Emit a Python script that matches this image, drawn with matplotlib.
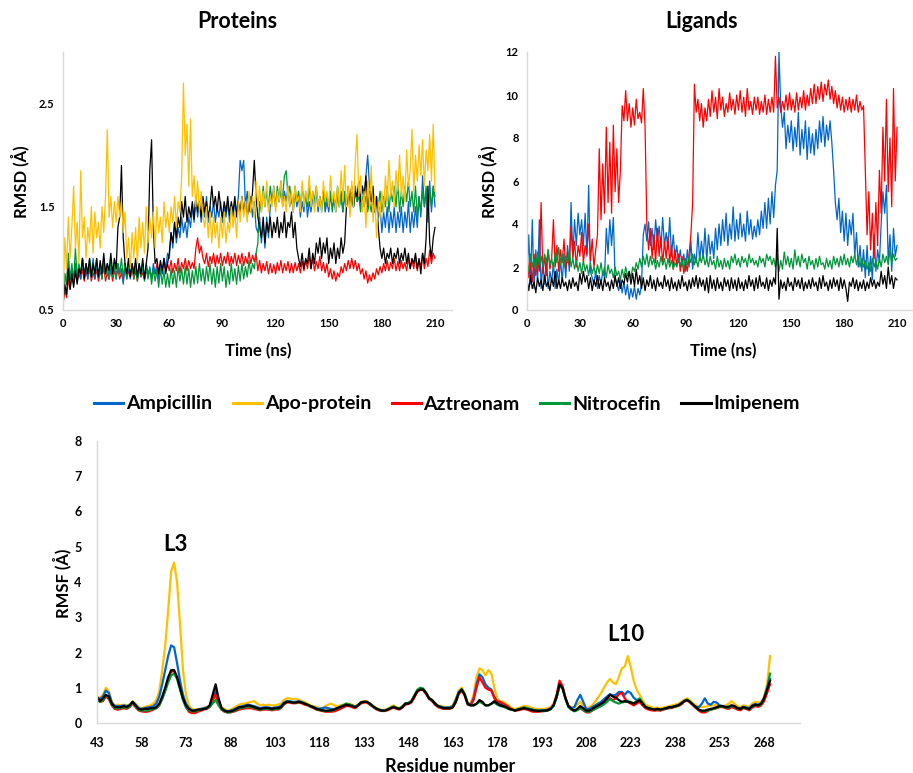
import numpy as np
import matplotlib
matplotlib.use("Agg")
import matplotlib.pyplot as plt

plt.rcParams['font.family'] = ['Lato', 'DejaVu Sans']
plt.rcParams['font.weight'] = 'bold'

# ---------------- data ----------------
series_names = ["Ampicillin", "Apo-protein", "Aztreonam", "Nitrocefin", "Imipenem"]
colors = {"Ampicillin": "#0066cc", "Apo-protein": "#ffc000", "Aztreonam": "#ff0000",
          "Nitrocefin": "#00973a", "Imipenem": "#000000"}

time_start, time_step = 0, 1   # ns
time_ticks = [0, 30, 60, 90, 120, 150, 180, 210]

# Protein RMSD (Å), one value per ns
prot_apo = [0.55, 1.2, 0.9, 1.4, 1.0, 1.3, 1.7, 1.1, 1.35, 0.95,
            1.85, 1.2, 1.4, 1.0, 1.3, 1.15, 1.5, 1.05, 1.45, 1.2,
            1.35, 1.1, 1.5, 1.25, 1.6, 2.25, 1.4, 1.6, 1.3, 1.55,
            1.35, 1.6, 1.4, 1.55, 1.25, 1.45, 1.0, 1.2, 0.9, 1.25,
            1.0, 1.3, 0.95, 1.4, 1.1, 1.35, 1.05, 1.5, 1.15, 1.4,
            1.2, 1.45, 1.1, 1.5, 1.25, 1.4, 1.15, 1.55, 1.3, 1.45,
            1.25, 1.5, 1.35, 1.6, 1.3, 1.55, 1.45, 1.8, 2.7, 2.0,
            2.3, 1.7, 2.35, 1.6, 1.8, 1.5, 1.75, 1.45, 1.65, 1.4,
            1.3, 1.5, 1.2, 1.45, 1.15, 1.4, 1.2, 1.35, 1.1, 1.4,
            1.2, 1.45, 1.15, 1.35, 1.25, 1.5, 1.3, 1.45, 1.2, 1.55,
            1.35, 1.6, 1.4, 1.55, 1.35, 1.65, 1.45, 1.6, 1.4, 1.75,
            1.5, 1.7, 1.45, 1.65, 1.5, 1.75, 1.45, 1.6, 1.5, 1.7,
            1.45, 1.65, 1.55, 1.75, 1.5, 1.6, 1.45, 1.7, 1.5, 1.65,
            1.45, 1.7, 1.55, 1.6, 1.45, 1.75, 1.5, 1.65, 1.55, 1.8,
            1.5, 1.65, 1.45, 1.7, 1.5, 1.6, 1.45, 1.75, 1.55, 1.65,
            1.5, 1.8, 1.55, 1.65, 1.45, 1.7, 1.5, 1.85, 1.55, 1.9,
            1.5, 1.7, 1.4, 1.75, 1.5, 1.95, 2.2, 1.6, 1.8, 1.45,
            1.65, 1.3, 1.75, 1.5, 1.9, 1.35, 1.6, 1.2, 1.55, 1.4,
            1.65, 1.45, 1.8, 1.55, 1.95, 1.6, 1.75, 1.5, 1.85, 1.65,
            2.0, 1.6, 1.8, 1.55, 2.05, 1.7, 1.85, 2.25, 1.65, 2.0,
            1.75, 2.1, 1.8, 2.15, 1.7, 2.05, 1.85, 2.2, 1.75, 2.3,
            1.65]
prot_amp = [0.6, 0.85, 0.75, 0.95, 0.8, 0.9, 0.75, 0.95, 0.85, 0.9,
            0.8, 1.0, 0.85, 0.95, 0.8, 0.9, 0.85, 1.0, 0.8, 0.95,
            0.85, 0.9, 0.8, 1.0, 0.85, 0.95, 0.8, 0.9, 0.85, 0.95,
            0.8, 0.95, 0.85, 0.9, 0.75, 0.95, 0.85, 0.9, 0.8, 0.95,
            0.85, 0.9, 0.8, 0.95, 0.85, 0.9, 0.8, 0.95, 0.85, 0.9,
            0.8, 0.95, 0.85, 0.9, 0.8, 0.95, 0.85, 1.0, 0.9, 1.05,
            1.0, 1.25, 1.1, 1.35, 1.15, 1.3, 1.2, 1.4, 1.25, 1.35,
            1.2, 1.4, 1.3, 1.5, 1.35, 1.6, 1.4, 1.55, 1.35, 1.5,
            1.4, 1.6, 1.35, 1.5, 1.4, 1.55, 1.35, 1.5, 1.4, 1.55,
            1.35, 1.5, 1.4, 1.55, 1.35, 1.5, 1.4, 1.55, 1.45, 1.6,
            1.95, 1.85, 1.95, 1.5, 1.65, 1.45, 1.6, 1.4, 1.55, 1.3,
            1.25, 1.4, 1.15, 1.35, 1.1, 1.4, 1.2, 1.5, 1.55, 1.7,
            1.5, 1.65, 1.55, 1.75, 1.5, 1.65, 1.55, 1.7, 1.5, 1.6,
            1.45, 1.65, 1.5, 1.6, 1.4, 1.55, 1.45, 1.65, 1.4, 1.55,
            1.45, 1.6, 1.5, 1.65, 1.45, 1.6, 1.5, 1.65, 1.45, 1.55,
            1.45, 1.6, 1.5, 1.55, 1.45, 1.6, 1.5, 1.65, 1.45, 1.6,
            1.5, 1.65, 1.45, 1.6, 1.5, 1.7, 1.55, 1.65, 1.5, 1.7,
            1.55, 1.8, 2.0, 1.7, 1.6, 1.5, 1.45, 1.6, 1.4, 1.5,
            1.25, 1.45, 1.3, 1.5, 1.25, 1.45, 1.3, 1.5, 1.25, 1.45,
            1.3, 1.5, 1.25, 1.45, 1.3, 1.55, 1.25, 1.45, 1.3, 1.5,
            1.3, 1.6, 1.4, 1.8, 1.5, 1.65, 1.35, 1.75, 1.45, 1.7,
            1.5]
prot_azt = [0.55, 0.7, 0.62, 0.8, 0.7, 0.85, 0.75, 0.9, 0.78, 0.85,
            0.8, 0.9, 0.78, 0.88, 0.8, 0.92, 0.78, 0.86, 0.8, 0.9,
            0.78, 0.88, 0.82, 0.92, 0.78, 0.86, 0.8, 0.9, 0.78, 0.88,
            0.82, 0.9, 0.8, 0.86, 0.78, 0.92, 0.8, 0.88, 0.82, 0.9,
            0.8, 0.88, 0.78, 0.9, 0.82, 0.86, 0.8, 0.92, 0.82, 0.88,
            0.82, 0.9, 0.85, 0.95, 0.85, 0.92, 0.85, 0.98, 0.88, 0.95,
            0.88, 0.98, 0.86, 0.95, 0.88, 1.0, 0.86, 0.96, 0.9, 1.0,
            0.88, 0.98, 0.9, 0.96, 0.9, 1.1, 1.2, 1.05, 1.12, 1.0,
            0.95, 1.05, 0.92, 1.02, 0.95, 1.05, 0.92, 1.03, 0.95, 1.05,
            0.93, 1.02, 0.95, 1.06, 0.93, 1.02, 0.95, 1.05, 0.93, 1.03,
            0.95, 1.05, 0.93, 1.02, 0.95, 1.06, 0.95, 1.03, 0.97, 1.05,
            0.88, 0.98, 0.86, 0.95, 0.88, 0.97, 0.85, 0.95, 0.86, 0.94,
            0.85, 0.96, 0.88, 0.98, 0.86, 0.95, 0.88, 0.97, 0.86, 0.95,
            0.86, 0.96, 0.88, 0.95, 0.86, 0.97, 0.88, 0.98, 0.9, 1.02,
            0.9, 1.0, 0.88, 0.97, 0.9, 1.02, 0.88, 0.96, 0.86, 0.95,
            0.82, 0.9, 0.8, 0.88, 0.78, 0.86, 0.82, 0.92, 0.86, 0.95,
            0.88, 0.98, 0.9, 1.0, 0.9, 0.98, 0.88, 0.95, 0.85, 0.9,
            0.8, 0.88, 0.76, 0.84, 0.78, 0.86, 0.8, 0.9, 0.84, 0.92,
            0.86, 0.95, 0.88, 0.98, 0.88, 0.96, 0.9, 1.0, 0.88, 0.97,
            0.88, 0.98, 0.9, 0.96, 0.88, 1.0, 0.9, 0.98, 0.9, 1.02,
            0.88, 0.98, 0.92, 1.05, 0.9, 1.0, 0.92, 1.08, 0.95, 1.05,
            1.0]
prot_nit = [0.6, 0.85, 0.75, 1.05, 0.8, 0.95, 0.78, 1.1, 0.82, 0.95,
            0.85, 1.0, 0.82, 0.95, 0.85, 1.0, 0.8, 0.95, 0.85, 1.0,
            0.82, 0.95, 0.8, 1.0, 0.85, 0.92, 0.8, 0.98, 0.82, 0.95,
            0.8, 0.95, 0.85, 1.0, 0.82, 0.95, 0.8, 0.98, 0.85, 0.95,
            0.8, 0.95, 0.78, 0.92, 0.82, 0.95, 0.78, 0.9, 0.8, 0.92,
            0.75, 0.9, 0.78, 0.88, 0.72, 0.9, 0.75, 0.88, 0.72, 0.85,
            0.72, 0.9, 0.75, 0.88, 0.72, 0.92, 0.78, 0.9, 0.75, 0.92,
            0.75, 0.9, 0.72, 0.88, 0.75, 0.92, 0.76, 0.95, 0.78, 0.9,
            0.75, 0.92, 0.78, 0.95, 0.75, 0.9, 0.72, 0.92, 0.76, 0.95,
            0.78, 0.92, 0.72, 0.88, 0.75, 0.95, 0.78, 0.9, 0.75, 0.93,
            0.78, 0.95, 0.8, 0.92, 0.82, 0.98, 0.85, 0.95, 0.9, 1.05,
            1.15, 1.55, 1.45, 1.7, 1.5, 1.65, 1.5, 1.7, 1.55, 1.65,
            1.5, 1.7, 1.55, 1.65, 1.6, 1.8, 1.85, 1.6, 1.7, 1.55,
            1.5, 1.7, 1.55, 1.65, 1.5, 1.7, 1.55, 1.6, 1.5, 1.7,
            1.5, 1.65, 1.55, 1.7, 1.5, 1.6, 1.45, 1.65, 1.5, 1.6,
            1.5, 1.65, 1.45, 1.6, 1.5, 1.7, 1.5, 1.6, 1.45, 1.65,
            1.5, 1.7, 1.55, 1.6, 1.5, 1.65, 1.55, 1.6, 1.45, 1.6,
            1.5, 1.6, 1.45, 1.55, 1.45, 1.6, 1.45, 1.55, 1.5, 1.65,
            1.45, 1.6, 1.5, 1.7, 1.45, 1.65, 1.55, 1.7, 1.5, 1.75,
            1.45, 1.65, 1.5, 1.7, 1.55, 1.75, 1.5, 1.65, 1.45, 1.7,
            1.4, 1.6, 1.45, 1.65, 1.5, 1.7, 1.45, 1.65, 1.5, 1.7,
            1.6]
prot_imi = [0.55, 0.75, 0.65, 0.9, 0.7, 0.85, 0.72, 0.88, 0.75, 0.9,
            0.85, 1.0, 0.8, 0.95, 0.85, 1.0, 0.82, 0.95, 0.85, 1.0,
            0.82, 0.98, 0.85, 1.05, 0.85, 0.95, 0.88, 1.05, 0.85, 1.0,
            0.9, 1.3, 1.4, 1.9, 1.2, 0.95, 0.85, 1.0, 0.82, 0.95,
            0.85, 1.0, 0.82, 0.95, 0.85, 1.0, 0.8, 0.95, 1.1, 1.85,
            2.15, 1.3, 0.95, 1.0, 0.85, 0.98, 0.88, 1.0, 0.85, 0.95,
            1.05, 1.25, 1.15, 1.35, 1.2, 1.4, 1.3, 1.55, 1.4, 1.6,
            1.35, 1.5, 1.4, 1.55, 1.38, 1.6, 1.45, 1.55, 1.4, 1.6,
            1.45, 1.55, 1.4, 1.5, 1.7, 1.5, 1.6, 1.45, 1.65, 1.5,
            1.4, 1.55, 1.45, 1.6, 1.42, 1.55, 1.45, 1.6, 1.4, 1.55,
            1.45, 1.6, 1.45, 1.55, 1.4, 1.55, 1.45, 1.65, 1.95, 1.6,
            1.4, 1.3, 1.2, 1.4, 1.15, 1.35, 1.25, 1.4, 1.2, 1.35,
            1.25, 1.4, 1.2, 1.35, 1.25, 1.45, 1.2, 1.35, 1.3, 1.45,
            1.2, 1.35, 1.1, 1.0, 0.92, 1.05, 0.9, 1.0, 0.95, 1.1,
            0.9, 1.05, 0.95, 1.15, 1.05, 1.2, 1.0, 1.15, 1.05, 1.2,
            0.95, 1.1, 1.0, 1.15, 0.95, 1.1, 1.0, 1.2, 1.05, 1.15,
            1.5, 1.65, 1.55, 1.7, 1.5, 1.65, 1.6, 1.75, 1.55, 1.7,
            1.6, 1.8, 1.5, 1.65, 1.55, 1.7, 1.45, 1.6, 1.3, 1.1,
            1.0, 1.1, 0.95, 1.05, 1.0, 1.1, 0.95, 1.05, 1.0, 1.1,
            0.95, 1.05, 0.98, 1.1, 0.95, 1.05, 0.9, 1.0, 0.95, 1.05,
            0.9, 1.0, 0.85, 1.05, 0.95, 1.2, 1.7, 1.15, 1.0, 1.2,
            1.3]

# Ligand RMSD (Å), one value per ns
lig_azt = [2.7, 1.5, 2.2, 1.3, 2.6, 1.6, 2.4, 1.8, 5.0, 1.7,
           2.5, 1.6, 2.8, 1.9, 2.4, 4.2, 2.0, 3.0, 1.8, 2.8,
           2.2, 3.3, 1.9, 2.7, 2.1, 3.9, 2.4, 3.2, 2.0, 3.0,
           2.5, 3.6, 2.2, 3.0, 2.6, 4.0, 2.3, 3.3, 2.0, 2.8,
           3.5, 7.5, 4.2, 6.8, 4.5, 8.5, 5.0, 7.8, 4.5, 8.6,
           5.5, 7.5, 5.0, 6.5, 9.5, 8.8, 10.2, 8.8, 9.6, 8.5,
           9.4, 8.6, 9.8, 8.9, 9.2, 8.7, 10.3, 8.5, 4.0, 2.8,
           3.8, 2.4, 3.5, 2.2, 3.8, 2.5, 3.4, 2.1, 3.2, 2.4,
           3.4, 2.2, 3.0, 1.9, 2.8, 2.1, 2.6, 1.8, 2.5, 1.7,
           2.2, 1.8, 2.6, 3.5, 5.0, 10.5, 9.2, 9.8, 8.8, 9.6,
           8.5, 9.4, 8.8, 9.8, 9.0, 10.2, 9.2, 9.9, 8.9, 10.3,
           9.3, 9.9, 9.0, 9.6, 9.2, 10.1, 9.3, 9.8, 9.1, 10.0,
           9.3, 10.2, 9.2, 9.9, 9.0, 10.3, 9.3, 9.7, 9.1, 9.9,
           9.3, 9.9, 9.1, 9.7, 9.2, 10.0, 9.1, 9.8, 9.2, 9.9,
           9.2, 11.8, 9.4, 9.9, 9.2, 9.7, 9.3, 10.0, 9.3, 10.1,
           9.3, 9.8, 9.2, 10.1, 9.3, 9.9, 9.4, 10.2, 9.3, 10.0,
           9.5, 10.3, 9.6, 10.5, 9.6, 10.4, 9.8, 10.6, 9.7, 10.5,
           10.0, 10.7, 9.8, 10.4, 9.6, 10.2, 9.4, 10.0, 9.3, 9.9,
           9.2, 9.8, 9.3, 9.9, 9.2, 9.8, 9.3, 10.0, 9.2, 9.7,
           9.3, 9.5, 6.5, 3.5, 5.5, 2.8, 4.5, 2.4, 5.0, 3.0,
           6.5, 4.5, 8.5, 6.0, 9.8, 5.5, 8.0, 4.8, 10.3, 6.0,
           8.5]
lig_amp = [1.5, 3.5, 1.2, 4.2, 1.0, 2.8, 1.3, 4.2, 1.0, 2.2,
           1.2, 2.4, 1.0, 1.8, 1.3, 2.2, 1.0, 1.9, 1.2, 2.4,
           1.3, 2.6, 1.5, 3.0, 1.8, 5.0, 2.5, 4.2, 3.0, 4.5,
           3.5, 4.2, 3.0, 4.5, 2.5, 5.8, 1.8, 1.5, 1.2, 1.8,
           1.0, 1.6, 1.2, 1.8, 1.5, 3.8, 2.6, 4.2, 3.0, 4.3,
           1.5, 1.2, 0.9, 1.4, 0.8, 1.3, 0.7, 1.2, 0.5, 1.0,
           0.6, 1.1, 0.5, 1.0, 0.7, 1.2, 3.5, 4.0, 3.2, 4.1,
           3.0, 3.8, 2.8, 4.2, 3.2, 3.9, 2.9, 4.3, 3.0, 3.6,
           2.8, 4.3, 2.5, 3.5, 2.4, 3.0, 2.2, 2.8, 2.0, 2.6,
           1.8, 2.8, 2.0, 3.2, 1.9, 2.6, 2.2, 3.6, 2.3, 3.2,
           2.4, 3.8, 2.3, 3.5, 2.6, 3.2, 2.4, 3.8, 2.8, 4.0,
           3.0, 4.2, 3.2, 4.5, 3.0, 4.0, 3.3, 4.8, 3.2, 4.2,
           3.3, 4.5, 3.4, 4.0, 3.2, 4.6, 3.5, 4.2, 3.3, 3.9,
           3.4, 4.2, 3.5, 4.6, 3.8, 5.0, 3.8, 5.2, 4.0, 5.5,
           4.3, 5.8, 6.5, 12.0, 9.5, 8.5, 9.2, 7.5, 8.6, 7.8,
           8.8, 7.4, 8.5, 7.6, 9.2, 7.2, 8.4, 7.5, 8.8, 7.0,
           8.5, 7.3, 8.2, 7.2, 8.4, 7.5, 8.8, 7.8, 9.0, 7.6,
           8.6, 7.9, 8.8, 7.8, 6.5, 5.0, 4.2, 5.2, 3.6, 4.6,
           3.2, 4.5, 3.0, 4.2, 3.5, 4.5, 2.5, 3.6, 2.0, 3.0,
           1.8, 2.8, 1.5, 3.0, 1.6, 2.5, 1.4, 3.5, 1.8, 2.8,
           2.2, 4.0, 5.5, 4.5, 5.8, 2.2, 3.5, 1.8, 3.8, 2.5,
           3.0]
lig_nit = [2.2, 1.8, 2.6, 2.0, 2.4, 1.9, 2.7, 2.1, 2.5, 2.0,
           2.6, 2.2, 2.8, 2.1, 2.4, 1.9, 2.7, 2.2, 2.9, 2.1,
           2.6, 2.0, 2.5, 2.2, 2.8, 2.0, 2.4, 1.9, 2.3, 1.8,
           2.2, 1.7, 2.3, 1.8, 2.1, 1.6, 2.2, 1.7, 2.0, 1.6,
           2.1, 1.7, 2.2, 1.6, 2.0, 1.5, 2.1, 1.7, 1.9, 1.5,
           2.0, 1.6, 1.8, 1.4, 1.9, 1.5, 2.0, 1.6, 1.8, 1.5,
           2.0, 1.8, 2.2, 1.9, 2.4, 2.0, 2.5, 2.1, 2.6, 2.0,
           2.5, 2.1, 2.4, 1.9, 2.3, 2.0, 2.5, 2.1, 2.4, 1.9,
           2.4, 2.0, 2.3, 1.9, 2.2, 2.0, 2.4, 2.1, 2.3, 1.9,
           2.4, 2.1, 2.5, 2.2, 2.6, 2.1, 2.4, 2.0, 2.5, 2.2,
           2.6, 2.1, 2.4, 2.0, 2.5, 2.1, 2.3, 1.9, 2.5, 2.0,
           2.3, 1.9, 2.4, 2.0, 2.3, 1.9, 2.5, 2.2, 2.6, 2.1,
           2.4, 2.0, 2.5, 2.2, 2.4, 2.0, 2.6, 2.2, 2.4, 2.1,
           2.3, 2.0, 2.5, 2.2, 2.4, 2.0, 2.6, 2.3, 2.5, 2.1,
           2.4, 2.0, 2.6, 1.8, 2.3, 1.9, 2.7, 2.1, 2.5, 2.0,
           2.4, 1.9, 2.8, 2.1, 2.5, 2.0, 2.6, 2.2, 2.4, 1.9,
           2.5, 2.1, 2.3, 1.9, 2.4, 2.0, 2.5, 2.1, 2.2, 1.9,
           2.4, 2.0, 2.3, 1.9, 2.5, 2.1, 2.4, 2.0, 2.5, 2.1,
           2.6, 2.1, 2.4, 2.0, 2.5, 2.2, 2.6, 2.1, 2.5, 2.0,
           2.4, 2.0, 2.3, 1.9, 2.2, 1.8, 2.4, 2.0, 2.3, 1.9,
           2.4, 2.0, 2.6, 2.2, 2.5, 2.1, 2.8, 2.2, 2.6, 2.3,
           2.4]
lig_imi = [1.4, 0.9, 1.6, 1.0, 1.3, 0.8, 1.5, 1.1, 1.4, 0.9,
           1.6, 1.1, 1.3, 0.9, 1.5, 1.1, 1.8, 1.0, 1.4, 1.0,
           1.5, 1.1, 1.3, 0.9, 1.4, 1.0, 1.5, 1.1, 1.3, 0.9,
           1.7, 1.2, 1.8, 1.3, 1.6, 1.0, 1.5, 0.9, 1.4, 1.1,
           1.6, 1.0, 1.4, 0.9, 1.5, 1.1, 1.3, 0.9, 1.4, 1.0,
           1.6, 1.1, 1.5, 1.0, 1.4, 1.2, 1.7, 1.3, 1.8, 1.2,
           1.7, 1.1, 1.9, 1.2, 1.6, 1.0, 1.5, 0.9, 1.4, 1.1,
           1.6, 1.0, 1.4, 0.9, 1.5, 1.1, 1.3, 1.0, 1.6, 1.1,
           1.4, 0.9, 1.5, 1.0, 1.3, 0.9, 1.4, 1.0, 1.6, 1.1,
           1.3, 0.9, 1.4, 1.0, 1.5, 1.1, 1.6, 1.0, 1.5, 1.1,
           1.4, 0.9, 1.5, 0.8, 1.6, 1.0, 1.4, 0.9, 1.5, 1.0,
           1.3, 0.9, 1.5, 1.1, 1.4, 0.9, 1.5, 1.0, 1.4, 0.9,
           1.5, 1.0, 1.3, 0.9, 1.4, 1.0, 1.6, 1.1, 1.4, 0.9,
           1.5, 1.0, 1.6, 1.1, 1.3, 1.0, 1.5, 0.9, 1.4, 1.1,
           1.5, 1.2, 3.8, 0.5, 1.4, 1.0, 1.3, 0.9, 1.5, 1.1,
           1.3, 0.9, 1.5, 1.1, 1.4, 1.0, 1.5, 0.9, 1.3, 1.0,
           1.4, 1.0, 1.5, 1.1, 1.3, 0.9, 1.5, 1.0, 1.6, 1.1,
           1.3, 0.9, 1.4, 1.0, 1.5, 1.1, 1.4, 0.9, 1.5, 1.0,
           1.4, 1.0, 0.4, 1.3, 1.1, 1.5, 1.0, 1.4, 0.9, 1.3,
           1.0, 1.4, 0.9, 1.3, 1.0, 1.5, 1.1, 1.4, 1.0, 1.3,
           1.1, 1.8, 1.2, 1.6, 1.0, 2.0, 1.2, 1.6, 1.0, 1.5,
           1.4]

# RMSF (Å) per residue, starting at residue 43
res_start = 43
res_ticks = [43, 58, 73, 88, 103, 118, 133, 148, 163, 178, 193, 208, 223, 238, 253, 268]
rmsf_apo = [0.7, 0.72, 0.8, 1.0, 0.9, 0.6, 0.5, 0.52, 0.5, 0.52,
            0.5, 0.52, 0.62, 0.55, 0.45, 0.42, 0.45, 0.48, 0.5, 0.55,
            0.65, 0.9, 1.5, 2.2, 3.2, 4.3, 4.55, 4.0, 2.8, 1.5,
            0.8, 0.5, 0.4, 0.38, 0.38, 0.4, 0.42, 0.45, 0.48, 0.6,
            0.8, 0.6, 0.45, 0.4, 0.35, 0.38, 0.42, 0.48, 0.52, 0.55,
            0.55, 0.58, 0.6, 0.62, 0.55, 0.5, 0.52, 0.5, 0.52, 0.5,
            0.5, 0.52, 0.55, 0.65, 0.7, 0.7, 0.68, 0.68, 0.66, 0.62,
            0.6, 0.55, 0.5, 0.48, 0.45, 0.42, 0.42, 0.48, 0.52, 0.55,
            0.5, 0.48, 0.5, 0.52, 0.55, 0.55, 0.52, 0.48, 0.52, 0.6,
            0.62, 0.62, 0.56, 0.5, 0.44, 0.4, 0.37, 0.37, 0.4, 0.45,
            0.5, 0.45, 0.42, 0.48, 0.55, 0.58, 0.62, 0.78, 0.92, 0.98,
            0.95, 0.85, 0.72, 0.66, 0.58, 0.5, 0.48, 0.46, 0.45, 0.46,
            0.5, 0.7, 0.92, 1.0, 0.85, 0.58, 0.55, 0.8, 1.3, 1.55,
            1.5, 1.35, 1.5, 1.4, 1.0, 0.7, 0.6, 0.6, 0.55, 0.48,
            0.42, 0.4, 0.42, 0.45, 0.48, 0.48, 0.45, 0.42, 0.4, 0.4,
            0.4, 0.4, 0.42, 0.45, 0.55, 0.75, 1.05, 1.0, 0.7, 0.5,
            0.45, 0.45, 0.52, 0.6, 0.5, 0.42, 0.45, 0.5, 0.6, 0.72,
            0.85, 1.0, 1.15, 1.25, 1.15, 1.1, 1.3, 1.55, 1.6, 1.9,
            1.6, 1.2, 0.95, 0.8, 0.65, 0.52, 0.48, 0.45, 0.42, 0.44,
            0.42, 0.44, 0.46, 0.48, 0.5, 0.52, 0.55, 0.6, 0.66, 0.7,
            0.64, 0.56, 0.5, 0.46, 0.45, 0.46, 0.48, 0.5, 0.5, 0.52,
            0.5, 0.48, 0.5, 0.55, 0.62, 0.55, 0.48, 0.45, 0.5, 0.48,
            0.46, 0.55, 0.6, 0.58, 0.6, 0.75, 1.1, 1.9]
rmsf_amp = [0.72, 0.68, 0.75, 0.92, 0.85, 0.58, 0.48, 0.48, 0.48, 0.5,
            0.48, 0.5, 0.6, 0.52, 0.42, 0.4, 0.42, 0.44, 0.45, 0.48,
            0.55, 0.75, 1.1, 1.5, 1.9, 2.2, 2.15, 1.7, 1.2, 0.8,
            0.55, 0.42, 0.36, 0.36, 0.38, 0.4, 0.42, 0.44, 0.48, 0.7,
            0.95, 0.65, 0.42, 0.36, 0.33, 0.35, 0.38, 0.42, 0.46, 0.48,
            0.5, 0.52, 0.5, 0.48, 0.45, 0.42, 0.44, 0.45, 0.44, 0.42,
            0.44, 0.45, 0.48, 0.58, 0.62, 0.62, 0.6, 0.6, 0.62, 0.6,
            0.56, 0.52, 0.48, 0.45, 0.42, 0.4, 0.42, 0.44, 0.42, 0.4,
            0.4, 0.42, 0.46, 0.5, 0.52, 0.52, 0.5, 0.46, 0.5, 0.58,
            0.6, 0.6, 0.55, 0.48, 0.42, 0.38, 0.36, 0.36, 0.38, 0.42,
            0.46, 0.42, 0.4, 0.46, 0.55, 0.56, 0.6, 0.75, 0.9, 0.96,
            0.95, 0.85, 0.7, 0.65, 0.56, 0.48, 0.46, 0.44, 0.44, 0.44,
            0.48, 0.65, 0.88, 0.96, 0.82, 0.56, 0.52, 0.7, 1.1, 1.38,
            1.3, 1.1, 1.0, 0.95, 0.75, 0.6, 0.55, 0.52, 0.48, 0.42,
            0.38, 0.36, 0.38, 0.4, 0.44, 0.42, 0.4, 0.38, 0.36, 0.35,
            0.36, 0.36, 0.38, 0.42, 0.5, 0.72, 1.05, 1.0, 0.7, 0.48,
            0.42, 0.45, 0.65, 0.8, 0.6, 0.4, 0.4, 0.45, 0.5, 0.55,
            0.6, 0.68, 0.75, 0.82, 0.78, 0.8, 0.88, 0.88, 0.8, 0.9,
            0.85, 0.72, 0.65, 0.68, 0.56, 0.46, 0.42, 0.4, 0.38, 0.4,
            0.38, 0.4, 0.42, 0.45, 0.46, 0.48, 0.5, 0.56, 0.62, 0.66,
            0.6, 0.52, 0.46, 0.45, 0.55, 0.7, 0.55, 0.52, 0.6, 0.58,
            0.5, 0.48, 0.46, 0.47, 0.5, 0.48, 0.43, 0.42, 0.46, 0.44,
            0.42, 0.5, 0.54, 0.52, 0.56, 0.7, 0.95, 1.25]
rmsf_azt = [0.7, 0.6, 0.62, 0.75, 0.68, 0.5, 0.4, 0.38, 0.4, 0.42,
            0.4, 0.45, 0.55, 0.45, 0.36, 0.33, 0.32, 0.32, 0.35, 0.38,
            0.42, 0.5, 0.7, 0.95, 1.25, 1.45, 1.48, 1.3, 1.0, 0.68,
            0.45, 0.32, 0.28, 0.28, 0.32, 0.35, 0.38, 0.4, 0.45, 0.65,
            0.82, 0.55, 0.38, 0.32, 0.3, 0.3, 0.32, 0.35, 0.38, 0.4,
            0.42, 0.42, 0.42, 0.4, 0.38, 0.36, 0.38, 0.38, 0.38, 0.36,
            0.38, 0.38, 0.42, 0.52, 0.58, 0.58, 0.56, 0.56, 0.58, 0.56,
            0.52, 0.5, 0.46, 0.42, 0.38, 0.36, 0.34, 0.32, 0.32, 0.32,
            0.33, 0.36, 0.4, 0.44, 0.48, 0.48, 0.45, 0.42, 0.48, 0.55,
            0.58, 0.58, 0.52, 0.46, 0.4, 0.36, 0.34, 0.34, 0.36, 0.4,
            0.44, 0.4, 0.38, 0.44, 0.52, 0.54, 0.58, 0.72, 0.88, 0.95,
            0.93, 0.82, 0.68, 0.62, 0.52, 0.45, 0.42, 0.4, 0.4, 0.4,
            0.44, 0.58, 0.82, 0.92, 0.78, 0.52, 0.5, 0.65, 1.0, 1.3,
            1.15, 1.0, 0.95, 0.92, 0.7, 0.62, 0.6, 0.55, 0.5, 0.44,
            0.38, 0.35, 0.36, 0.38, 0.4, 0.38, 0.35, 0.32, 0.32, 0.32,
            0.33, 0.34, 0.36, 0.4, 0.52, 0.8, 1.2, 1.05, 0.72, 0.46,
            0.38, 0.35, 0.38, 0.42, 0.36, 0.3, 0.3, 0.35, 0.4, 0.45,
            0.5, 0.58, 0.65, 0.7, 0.65, 0.7, 0.82, 0.85, 0.7, 0.6,
            0.55, 0.5, 0.55, 0.6, 0.5, 0.42, 0.38, 0.36, 0.35, 0.36,
            0.35, 0.38, 0.4, 0.42, 0.43, 0.46, 0.48, 0.52, 0.6, 0.64,
            0.58, 0.5, 0.42, 0.35, 0.3, 0.3, 0.34, 0.38, 0.4, 0.42,
            0.45, 0.45, 0.42, 0.4, 0.45, 0.42, 0.38, 0.36, 0.42, 0.4,
            0.36, 0.44, 0.48, 0.46, 0.5, 0.62, 0.85, 1.1]
rmsf_nit = [0.65, 0.6, 0.65, 0.78, 0.72, 0.52, 0.42, 0.42, 0.42, 0.45,
            0.42, 0.47, 0.58, 0.47, 0.38, 0.35, 0.35, 0.36, 0.38, 0.4,
            0.42, 0.5, 0.68, 0.9, 1.15, 1.35, 1.4, 1.25, 0.95, 0.65,
            0.45, 0.36, 0.33, 0.33, 0.36, 0.38, 0.4, 0.42, 0.46, 0.55,
            0.65, 0.5, 0.38, 0.33, 0.3, 0.31, 0.33, 0.38, 0.42, 0.43,
            0.45, 0.47, 0.45, 0.43, 0.4, 0.38, 0.4, 0.4, 0.4, 0.38,
            0.4, 0.4, 0.44, 0.54, 0.6, 0.6, 0.58, 0.58, 0.6, 0.58,
            0.55, 0.51, 0.47, 0.44, 0.39, 0.37, 0.35, 0.34, 0.34, 0.35,
            0.37, 0.42, 0.46, 0.5, 0.55, 0.53, 0.5, 0.46, 0.5, 0.57,
            0.6, 0.6, 0.54, 0.47, 0.41, 0.37, 0.35, 0.35, 0.38, 0.43,
            0.47, 0.43, 0.41, 0.47, 0.56, 0.57, 0.62, 0.78, 0.94, 1.0,
            0.98, 0.86, 0.7, 0.64, 0.54, 0.47, 0.44, 0.42, 0.42, 0.42,
            0.46, 0.62, 0.86, 0.95, 0.8, 0.54, 0.5, 0.5, 0.54, 0.6,
            0.56, 0.5, 0.5, 0.54, 0.58, 0.52, 0.48, 0.46, 0.43, 0.39,
            0.37, 0.36, 0.39, 0.42, 0.44, 0.42, 0.39, 0.37, 0.35, 0.34,
            0.34, 0.34, 0.35, 0.39, 0.48, 0.72, 1.05, 0.98, 0.68, 0.45,
            0.38, 0.33, 0.36, 0.42, 0.38, 0.32, 0.32, 0.36, 0.4, 0.44,
            0.48, 0.53, 0.6, 0.68, 0.62, 0.58, 0.55, 0.58, 0.6, 0.62,
            0.6, 0.56, 0.62, 0.7, 0.58, 0.46, 0.42, 0.4, 0.38, 0.39,
            0.37, 0.39, 0.41, 0.44, 0.45, 0.47, 0.49, 0.55, 0.62, 0.66,
            0.6, 0.52, 0.44, 0.37, 0.34, 0.34, 0.36, 0.38, 0.4, 0.43,
            0.46, 0.46, 0.44, 0.43, 0.48, 0.46, 0.41, 0.39, 0.44, 0.41,
            0.39, 0.47, 0.51, 0.49, 0.54, 0.72, 1.0, 1.4]
rmsf_imi = [0.75, 0.62, 0.7, 0.8, 0.75, 0.55, 0.45, 0.45, 0.45, 0.48,
            0.45, 0.5, 0.6, 0.5, 0.4, 0.38, 0.4, 0.4, 0.42, 0.42,
            0.45, 0.55, 0.75, 1.0, 1.3, 1.5, 1.5, 1.3, 1.0, 0.7,
            0.5, 0.4, 0.35, 0.35, 0.38, 0.38, 0.4, 0.42, 0.5, 0.8,
            1.1, 0.7, 0.42, 0.35, 0.32, 0.33, 0.35, 0.4, 0.45, 0.45,
            0.48, 0.5, 0.48, 0.45, 0.42, 0.4, 0.42, 0.42, 0.42, 0.4,
            0.42, 0.42, 0.45, 0.55, 0.6, 0.6, 0.58, 0.58, 0.6, 0.58,
            0.55, 0.52, 0.48, 0.45, 0.4, 0.38, 0.36, 0.35, 0.35, 0.36,
            0.38, 0.42, 0.45, 0.48, 0.52, 0.5, 0.48, 0.45, 0.5, 0.58,
            0.6, 0.6, 0.55, 0.48, 0.42, 0.38, 0.35, 0.35, 0.38, 0.42,
            0.45, 0.42, 0.4, 0.45, 0.55, 0.55, 0.6, 0.75, 0.9, 0.95,
            0.95, 0.85, 0.7, 0.65, 0.55, 0.48, 0.45, 0.42, 0.42, 0.42,
            0.45, 0.6, 0.85, 0.95, 0.8, 0.55, 0.5, 0.5, 0.55, 0.65,
            0.6, 0.5, 0.5, 0.55, 0.62, 0.55, 0.5, 0.48, 0.45, 0.4,
            0.38, 0.35, 0.38, 0.4, 0.42, 0.4, 0.38, 0.36, 0.35, 0.34,
            0.35, 0.35, 0.36, 0.4, 0.5, 0.75, 1.1, 1.0, 0.7, 0.48,
            0.4, 0.35, 0.4, 0.48, 0.42, 0.35, 0.35, 0.4, 0.45, 0.5,
            0.55, 0.6, 0.7, 0.8, 0.75, 0.72, 0.65, 0.6, 0.62, 0.6,
            0.58, 0.55, 0.6, 0.65, 0.55, 0.45, 0.42, 0.4, 0.38, 0.4,
            0.38, 0.4, 0.42, 0.45, 0.45, 0.48, 0.5, 0.55, 0.62, 0.65,
            0.6, 0.52, 0.45, 0.38, 0.35, 0.35, 0.38, 0.4, 0.42, 0.45,
            0.48, 0.48, 0.45, 0.45, 0.5, 0.48, 0.42, 0.4, 0.45, 0.42,
            0.4, 0.48, 0.52, 0.5, 0.55, 0.7, 0.95, 1.2]

# ---------------- figure ----------------
W, H = 913, 773
fig = plt.figure(figsize=(W / 100, H / 100), dpi=100)

def px_axes(l, t, r, b):
    return fig.add_axes([l / W, 1 - b / H, (r - l) / W, (b - t) / H])

def style(ax, fs=8):
    for s in ("top", "right"):
        ax.spines[s].set_visible(False)
    for s in ("left", "bottom"):
        ax.spines[s].set_color("#d9d9d9")
        ax.spines[s].set_linewidth(1.0)
    ax.tick_params(length=0, labelsize=fs, pad=6)
    for lab in ax.get_xticklabels() + ax.get_yticklabels():
        lab.set_fontweight("bold")

def tvals(vals):
    return time_start + time_step * np.arange(len(vals))

# Proteins panel
ax1 = px_axes(63, 52, 452, 310)
prot = {"Ampicillin": prot_amp, "Aztreonam": prot_azt, "Nitrocefin": prot_nit,
        "Imipenem": prot_imi, "Apo-protein": prot_apo}
for name in ["Aztreonam", "Ampicillin", "Nitrocefin", "Imipenem", "Apo-protein"]:
    ax1.plot(tvals(prot[name]), prot[name], color=colors[name], lw=0.9)
ax1.set_xlim(0, 219.6)
ax1.set_ylim(0.5, 3.0)
ax1.set_xticks(time_ticks)
ax1.set_yticks([0.5, 1.5, 2.5])
ax1.set_yticklabels(["0.5", "1.5", "2.5"])
style(ax1)

# Ligands panel
ax2 = px_axes(527, 52, 912, 310)
lig = {"Ampicillin": lig_amp, "Aztreonam": lig_azt, "Nitrocefin": lig_nit, "Imipenem": lig_imi}
for name in ["Ampicillin", "Aztreonam", "Nitrocefin", "Imipenem"]:
    ax2.plot(tvals(lig[name]), lig[name], color=colors[name], lw=0.9)
ax2.set_xlim(0, 218.5)
ax2.set_ylim(0, 12)
ax2.set_xticks(time_ticks)
ax2.set_yticks(range(0, 13, 2))
style(ax2)

fig.text(237 / W, 1 - 22 / H, "Proteins", ha="center", va="center", fontsize=15.5, fontweight="bold")
fig.text(702 / W, 1 - 22 / H, "Ligands", ha="center", va="center", fontsize=15.5, fontweight="bold")
fig.text(258 / W, 1 - 351 / H, "Time (ns)", ha="center", va="center", fontsize=12, fontweight="bold")
fig.text(723 / W, 1 - 351 / H, "Time (ns)", ha="center", va="center", fontsize=12, fontweight="bold")
fig.text(20 / W, 1 - 182 / H, "RMSD (Å)", ha="center", va="center", rotation=90, fontsize=12, fontweight="bold")
fig.text(488 / W, 1 - 182 / H, "RMSD (Å)", ha="center", va="center", rotation=90, fontsize=12, fontweight="bold")

# RMSF panel
ax3 = px_axes(97, 441, 800, 723)
rmsf = {"Apo-protein": rmsf_apo, "Ampicillin": rmsf_amp, "Aztreonam": rmsf_azt,
        "Nitrocefin": rmsf_nit, "Imipenem": rmsf_imi}
handles = {}
for name in ["Apo-protein", "Ampicillin", "Aztreonam", "Nitrocefin", "Imipenem"]:
    vals = rmsf[name]
    res = np.arange(res_start, res_start + len(vals))
    handles[name], = ax3.plot(res, vals, color=colors[name], lw=1.6)
ax3.set_xlim(43, 280.1)
ax3.set_ylim(0, 8)
ax3.set_xticks(res_ticks)
ax3.set_yticks(range(0, 9))
style(ax3, fs=9)
ax3.tick_params(axis="x", pad=10)
ax3.tick_params(axis="y", pad=11)
ax3.text(69.6, 5.05, "L3", ha="center", va="center", fontsize=16, fontweight="bold")
ax3.text(221.5, 2.5, "L10", ha="center", va="center", fontsize=16, fontweight="bold")
fig.text(62 / W, 1 - 583 / H, "RMSF (Å)", ha="center", va="center", rotation=90, fontsize=12, fontweight="bold")
fig.text(450 / W, 1 - 766 / H, "Residue number", ha="center", va="center", fontsize=13, fontweight="bold")

leg = fig.legend([handles[n] for n in series_names], series_names, loc="center",
                 bbox_to_anchor=(447 / W, 1 - 404 / H), ncol=5, frameon=False,
                 handlelength=1.5, handletextpad=0.15, columnspacing=1.05,
                 prop={"weight": "bold", "size": 14})
for h in leg.get_lines():
    h.set_linewidth(2.2)

fig.savefig("out.png", dpi=100)
